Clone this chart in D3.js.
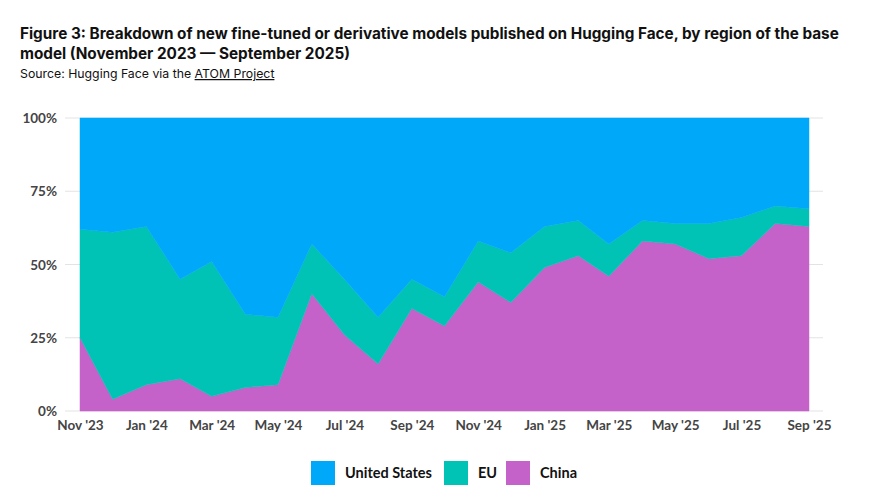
<!DOCTYPE html>
<html><head><meta charset="utf-8">
<script src="https://cdn.jsdelivr.net/npm/d3@7/dist/d3.min.js"></script>
<style>
body{margin:0;background:#fff;font-family:Lato,"Open Sans",sans-serif;}
</style></head><body>
<svg id="c" width="870" height="500"></svg>
<script>
const months = ["2023-11","2023-12","2024-01","2024-02","2024-03","2024-04","2024-05","2024-06","2024-07","2024-08","2024-09","2024-10","2024-11","2024-12","2025-01","2025-02","2025-03","2025-04","2025-05","2025-06","2025-07","2025-08","2025-09"];
const china = [25,4,9,11,5,8,9,40,26,16,35,29,44,37,49,53,46,58,57,52,53,64,63];
const eu    = [37,57,54,34,46,25,23,17,19,16,10,10,14,17,14,12,11,7,7,12,13,6,6];
const us    = [38,39,37,55,49,67,68,43,55,68,55,61,42,46,37,35,43,35,36,36,34,30,31];
const yTicks = [0,0.25,0.5,0.75,1];
const seriesKeys = ["China","EU","United States"];
const colors = {"United States":"#00a8f9","EU":"#00c3b5","China":"#c562c9"};
const legendOrder = ["United States","EU","China"];

const parse = d3.timeParse("%Y-%m");
const data = months.map((m,i)=>({date:parse(m),"China":china[i],"EU":eu[i],"United States":us[i]}));

const svg = d3.select("#c");
const L=80,R=809,T=118,B=411;
const x = d3.scaleTime().domain(d3.extent(data,d=>d.date)).range([L,R]);
const y = d3.scaleLinear().domain([0,1]).range([B,T]);

const stack = d3.stack().keys(seriesKeys).offset(d3.stackOffsetExpand);
const layers = stack(data);

svg.append("g").selectAll("line").data(yTicks).join("line")
  .attr("x1",65).attr("x2",823).attr("y1",d=>y(d)).attr("y2",d=>y(d))
  .attr("stroke","#e3e3e3").attr("stroke-width",1);

const area = d3.area().x(d=>x(d.data.date)).y0(d=>y(d[0])).y1(d=>y(d[1]));
svg.append("g").selectAll("path").data(layers).join("path")
  .attr("d",area).attr("fill",d=>colors[d.key]).attr("stroke",d=>colors[d.key]).attr("stroke-width",0.5);

const yAxis = d3.axisLeft(y).tickValues(yTicks).tickFormat(d3.format(".0%")).tickSize(0).tickPadding(0);
const ya = svg.append("g").attr("transform","translate(57,0)").call(yAxis);
ya.select(".domain").remove();
ya.selectAll("text").attr("font-family","Lato,sans-serif").attr("font-size",13.5).attr("font-weight",700).attr("fill","#444").attr("dy","0.35em");

const xTicks = data.filter((d,i)=>i%2===0).map(d=>d.date);
const xAxis = d3.axisBottom(x).tickValues(xTicks).tickFormat(d3.timeFormat("%b '%y")).tickSize(0).tickPadding(0);
const xa = svg.append("g").attr("transform","translate(0,420)").call(xAxis);
xa.select(".domain").remove();
xa.selectAll("text").attr("font-family","Lato,sans-serif").attr("font-size",13.5).attr("font-weight",700).attr("fill","#444").attr("dy","0.71em");

const t = svg.append("g").attr("font-family","Inter,sans-serif").attr("fill","#111");
t.append("text").attr("x",20).attr("y",39).attr("font-size",15.3).attr("font-weight",700)
  .text("Figure 3: Breakdown of new fine-tuned or derivative models published on Hugging Face, by region of the base");
t.append("text").attr("x",20).attr("y",59).attr("font-size",15.3).attr("font-weight",700)
  .text("model (November 2023 \u2014 September 2025)");
const s = t.append("text").attr("x",20).attr("y",78).attr("font-size",12.3);
s.append("tspan").text("Source: Hugging Face via the ");
s.append("tspan").attr("text-decoration","underline").text("ATOM Project");

const legX = {"United States":311,"EU":444,"China":506};
const lg = svg.append("g").selectAll("g").data(legendOrder).join("g")
  .attr("transform",d=>`translate(${legX[d]},461)`);
lg.append("rect").attr("width",24).attr("height",24).attr("fill",d=>colors[d]);
lg.append("text").attr("x",34).attr("y",17).attr("font-family","Lato,sans-serif").attr("font-size",14.5).attr("font-weight",700).attr("fill","#111").text(d=>d);
</script></body></html>
